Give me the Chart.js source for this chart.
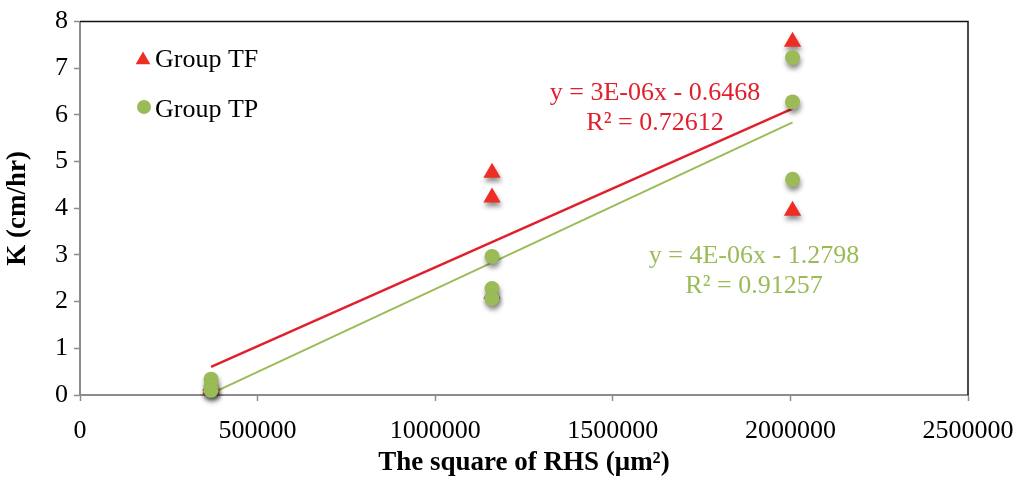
<!DOCTYPE html>
<html>
<head>
<meta charset="utf-8">
<script src="https://cdn.jsdelivr.net/npm/chart.js@4.4.0/dist/chart.umd.min.js"></script>
<style>
  html, body { margin: 0; padding: 0; background: #fff; }
  #wrap { width: 1016px; height: 479px; }
</style>
</head>
<body>
<div id="wrap"><canvas id="chart" width="1016" height="479"></canvas></div>
<script>
// K against the square of RHS, two groups
const rhsTF = [369000, 369000, 1160000, 1160000, 1160000, 2006000, 2006000]
const kTF = [0.2, 0.12, 4.76, 4.23, 2.17, 7.57, 3.95]

const rhsTP = [369000, 369000, 369000, 1160000, 1160000, 1160000, 2006000, 2006000, 2006000]
const kTP = [0.34, 0.19, 0.1, 2.97, 2.28, 2.07, 7.23, 6.28, 4.62]

// linear trendlines: [TF, TP]
const trendSlope = [3.38e-6, 3.55e-6]
const trendIntercept = [-0.6468, -1.2798]
const trendR2 = [0.72612, 0.91257]
const trendRange = [369000, 2006000]

const xTicks = [0, 500000, 1000000, 1500000, 2000000, 2500000]
const yTicks = [0, 1, 2, 3, 4, 5, 6, 7, 8]

const RED = "#ee2d24"
const RED_LINE = "#e0202c"
const GREEN = "#9bbb59"
const AXIS_GREY = "#8c8c8c"
const SERIF = "'Liberation Serif', 'Times New Roman', serif"

// Excel style scientific format, e.g. 3E-06
function sciLabel(v) {
    const [m, e] = v.toExponential(0).split("e")
    const n = parseInt(e, 10)
    return m.toUpperCase() + "E" + (n < 0 ? "-" : "+") + String(Math.abs(n)).padStart(2, "0")
}

function trendText(i) {
    const b = trendIntercept[i]
    return [
        "y = " + sciLabel(trendSlope[i]) + "x " + (b < 0 ? "- " : "+ ") + Math.abs(b).toFixed(4),
        "R\u00b2 = " + trendR2[i].toFixed(5),
    ]
}

function trendPoints(i) {
    return trendRange.map(x => ({ x: x, y: trendSlope[i] * x + trendIntercept[i] }))
}

const toPoints = (xs, ys) => xs.map((x, i) => ({ x: x, y: ys[i] }))

function drawTriangle(ctx, x, y, r) {
    ctx.beginPath()
    for (let k = 0; k < 3; k++) {
        const a = k * 2 * Math.PI / 3
        ctx.lineTo(x + Math.sin(a) * r, y - Math.cos(a) * r)
    }
    ctx.closePath()
    ctx.fill()
}

// soft drop shadow under the scatter markers only
const markerShadow = {
    id: "markerShadow",
    beforeDatasetDraw(chart, args) {
        if (args.meta.type !== "scatter") return
        const ctx = chart.ctx
        ctx.save()
        ctx.shadowColor = "rgba(0,0,0,0.45)"
        ctx.shadowBlur = 5
        ctx.shadowOffsetX = 1
        ctx.shadowOffsetY = 4
    },
    afterDatasetDraw(chart, args) {
        if (args.meta.type !== "scatter") return
        chart.ctx.restore()
    },
}

// black top/right edges of the plot area
const plotFrame = {
    id: "plotFrame",
    beforeDatasetsDraw(chart) {
        const { ctx, chartArea: a } = chart
        ctx.save()
        ctx.strokeStyle = "#111"
        ctx.lineWidth = 1.5
        ctx.beginPath()
        ctx.moveTo(a.left, a.top)
        ctx.lineTo(a.right, a.top)
        ctx.lineTo(a.right, a.bottom)
        ctx.stroke()
        ctx.restore()
    },
}

// legend in the top-left corner and the trendline equations
const annotations = {
    id: "annotations",
    afterDraw(chart) {
        const ctx = chart.ctx
        ctx.save()
        ctx.font = "26px " + SERIF
        ctx.textBaseline = "middle"

        ctx.fillStyle = RED
        drawTriangle(ctx, 143, 60, 8.5)
        ctx.fillStyle = GREEN
        ctx.beginPath()
        ctx.arc(144, 107, 7, 0, Math.PI * 2)
        ctx.fill()

        ctx.fillStyle = "#000"
        ctx.textAlign = "left"
        ctx.fillText("Group TF", 155, 60)
        ctx.fillText("Group TP", 155, 110)

        ctx.textAlign = "center"
        const [tf1, tf2] = trendText(0)
        ctx.fillStyle = RED_LINE
        ctx.fillText(tf1, 655, 93)
        ctx.fillText(tf2, 655, 123)

        const [tp1, tp2] = trendText(1)
        ctx.fillStyle = GREEN
        ctx.fillText(tp1, 754, 256)
        ctx.fillText(tp2, 754, 286)
        ctx.restore()
    },
}

new Chart(document.getElementById("chart"), {
    type: "scatter",
    data: {
        datasets: [
            {
                label: "Group TF",
                data: toPoints(rhsTF, kTF),
                pointStyle: "triangle",
                pointRadius: 10,
                backgroundColor: RED,
                borderWidth: 0,
                clip: false,
                order: 2,
            },
            {
                label: "Group TP",
                data: toPoints(rhsTP, kTP),
                pointStyle: "circle",
                pointRadius: 7.5,
                backgroundColor: GREEN,
                borderWidth: 0,
                clip: false,
                order: 1,
            },
            {
                type: "line",
                label: "Linear (Group TF)",
                data: trendPoints(0),
                borderColor: RED_LINE,
                borderWidth: 2.5,
                pointRadius: 0,
                order: 3,
            },
            {
                type: "line",
                label: "Linear (Group TP)",
                data: trendPoints(1),
                borderColor: GREEN,
                borderWidth: 2,
                pointRadius: 0,
                order: 4,
            },
        ],
    },
    options: {
        responsive: false,
        animation: false,
        devicePixelRatio: 1,
        layout: { padding: { left: 0, top: 16, right: 48, bottom: 0 } },
        plugins: {
            legend: { display: false },
            tooltip: { enabled: false },
        },
        scales: {
            x: {
                type: "linear",
                min: xTicks[0],
                max: xTicks[xTicks.length - 1],
                afterBuildTicks: s => { s.ticks = xTicks.map(v => ({ value: v })) },
                afterFit: s => {
                    s.height = 84
                    s.paddingLeft = 0
                    s.paddingRight = 0
                },
                grid: { drawOnChartArea: false, tickLength: 6, tickColor: AXIS_GREY, tickWidth: 1.5 },
                border: { color: AXIS_GREY, width: 2 },
                ticks: {
                    color: "#000",
                    padding: 15,
                    maxRotation: 0,
                    font: { family: SERIF, size: 26 },
                    callback: v => String(v),
                },
                title: {
                    display: true,
                    text: "The square of RHS (\u03bcm\u00b2)",
                    color: "#000",
                    padding: { top: 0, bottom: 0 },
                    font: { family: SERIF, size: 27, weight: "bold" },
                },
            },
            y: {
                min: yTicks[0],
                max: yTicks[yTicks.length - 1],
                afterBuildTicks: s => { s.ticks = yTicks.map(v => ({ value: v })) },
                afterFit: s => { s.width = 80 },
                grid: { drawOnChartArea: false, tickLength: 6, tickColor: AXIS_GREY, tickWidth: 1.5 },
                border: { color: AXIS_GREY, width: 2 },
                ticks: {
                    color: "#000",
                    padding: 6,
                    font: { family: SERIF, size: 26 },
                },
                title: {
                    display: true,
                    text: "K (cm/hr)",
                    color: "#000",
                    padding: { top: 2, bottom: 0 },
                    font: { family: SERIF, size: 27, weight: "bold" },
                },
            },
        },
    },
    plugins: [markerShadow, plotFrame, annotations],
})
</script>
</body>
</html>
